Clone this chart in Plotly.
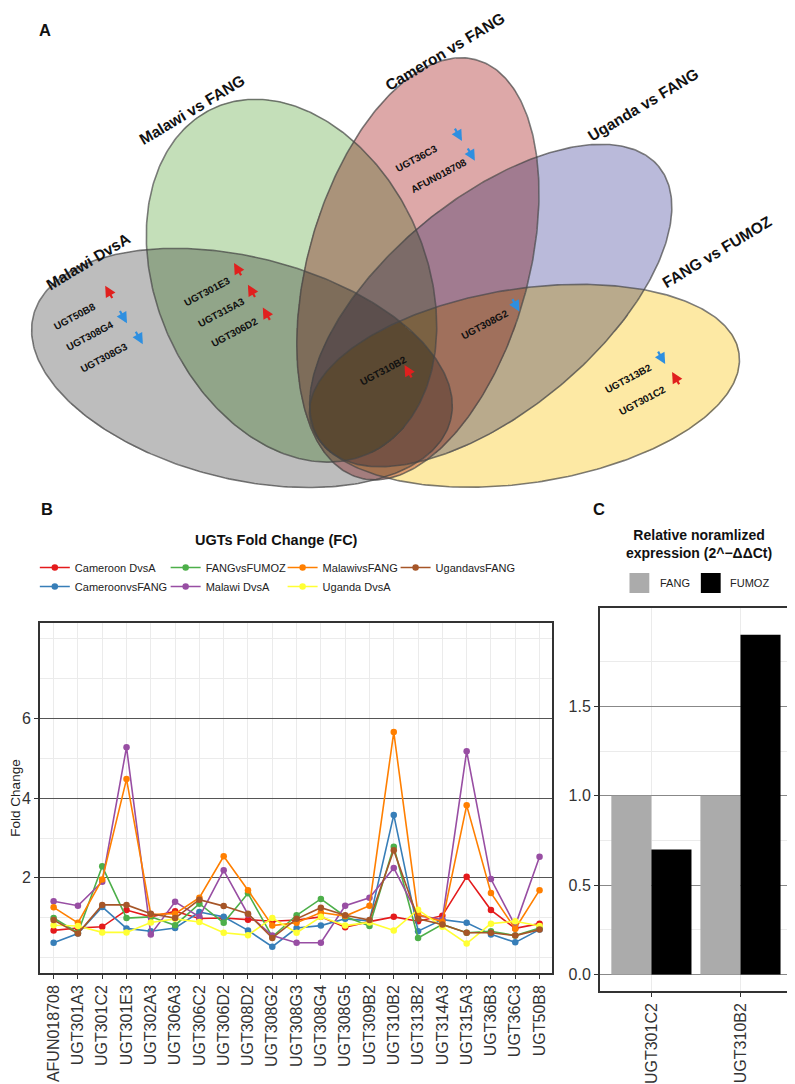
import base64
import struct
import zlib

import numpy as np
import plotly.graph_objects as go

# ---------------- data ----------------
genes = ["AFUN018708", "UGT301A3", "UGT301C2", "UGT301E3", "UGT302A3", "UGT306A3",
         "UGT306C2", "UGT306D2", "UGT308D2", "UGT308G2", "UGT308G3", "UGT308G4",
         "UGT308G5", "UGT309B2", "UGT310B2", "UGT313B2", "UGT314A3", "UGT315A3",
         "UGT36B3", "UGT36C3", "UGT50B8"]

cameroon_dvsa = [0.68, 0.74, 0.77, 1.19, 1.02, 1.16, 0.98, 0.99, 0.95, 0.91, 0.94,
                 1.02, 0.76, 0.90, 1.02, 0.91, 1.05, 2.03, 1.19, 0.73, 0.85]
cameroon_vs_fang = [0.37, 0.60, 1.27, 0.73, 0.66, 0.74, 1.14, 1.02, 0.68, 0.27, 0.74,
                    0.80, 0.97, 0.92, 3.58, 0.66, 0.95, 0.87, 0.58, 0.38, 0.70]
fang_vs_fumoz = [0.99, 0.62, 2.29, 0.99, 1.02, 0.81, 1.35, 0.87, 1.61, 0.52, 1.06,
                 1.47, 1.03, 0.79, 2.78, 0.49, 0.83, 0.62, 0.66, 0.55, 0.74]
malawi_dvsa = [1.41, 1.30, 1.90, 5.28, 0.58, 1.40, 1.02, 2.19, 1.08, 0.55, 0.37,
               0.37, 1.30, 1.50, 2.25, 1.05, 0.95, 5.18, 1.97, 0.80, 2.53]
malawi_vs_fang = [1.26, 0.87, 1.96, 4.48, 1.08, 1.10, 1.50, 2.54, 1.69, 0.80, 0.87,
                  1.13, 1.04, 1.30, 5.66, 1.08, 0.90, 3.82, 1.62, 0.72, 1.69]
uganda_dvsa = [0.81, 0.79, 0.63, 0.63, 0.88, 0.97, 0.89, 0.62, 0.56, 0.99, 0.62,
               1.02, 0.80, 0.88, 0.68, 1.20, 0.77, 0.35, 0.85, 0.91, 0.79]
uganda_vs_fang = [0.94, 0.60, 1.32, 1.32, 1.10, 0.99, 1.45, 1.29, 1.10, 0.49, 0.97,
                  1.25, 1.06, 0.94, 2.69, 0.97, 0.83, 0.62, 0.62, 0.55, 0.70]

series_names = ["Cameroon DvsA", "CameroonvsFANG", "FANGvsFUMOZ", "Malawi DvsA",
                "MalawivsFANG", "Uganda DvsA", "UgandavsFANG"]
series_values = [cameroon_dvsa, cameroon_vs_fang, fang_vs_fumoz, malawi_dvsa,
                 malawi_vs_fang, uganda_dvsa, uganda_vs_fang]

bar_genes = ["UGT301C2", "UGT310B2"]
fang_expr = [1.00, 1.00]
fumoz_expr = [0.70, 1.90]

venn_sets = ["Malawi DvsA", "Malawi vs FANG", "Cameron vs FANG", "Uganda vs FANG", "FANG vs FUMOZ"]
venn_genes = ["UGT50B8", "UGT308G4", "UGT308G3", "UGT301E3", "UGT315A3", "UGT306D2",
              "UGT310B2", "UGT308G2", "UGT36C3", "AFUN018708", "UGT313B2", "UGT301C2"]
venn_regulation = ["up", "down", "down", "up", "up", "up",
                   "up", "down", "down", "down", "down", "up"]

# ---------------- styles / layout geometry ----------------
PAGE_W, PAGE_H, OFF = 795, 1084, 8      # page body has an 8px margin
FW, FH = PAGE_W - OFF, PAGE_H - OFF       # figure size
VENN_BOTTOM = 495
FONT = "Liberation Sans, Arial, sans-serif"
series_colors = ["#E41A1C", "#377EB8", "#4DAF4A", "#984EA3", "#FF7F00", "#FFFF33", "#A65628"]
legend_col = ["legend", "legend", "legend2", "legend2", "legend3", "legend3", "legend4"]
legend_rank = [1, 2, 1, 2, 1, 2, 1]
legend_text_x = [68, 200, 318, 432]

# Venn ellipses in page pixel space: cx, cy, a, b, rotation(deg)
ellipse_geom = [(237, 369, 217, 112, 14), (287, 281, 191, 136, 66),
                (414.5, 269, 219, 111, -74.3), (488, 306, 220, 107, -39.6),
                (522, 387, 219, 98, -8.7)]
# single-set tint of each ellipse; overlaps are shown multiplied
ellipse_tint = [(189, 189, 189), (196, 223, 185), (221, 168, 168), (186, 186, 218), (253, 233, 164)]
set_label_pos = [(82, 262), (187, 108), (442, 50), (642, 103), (717, 252)]
gene_label_pos = [(68, 317), (84, 336), (98, 358), (202, 292), (216, 313), (229, 333),
                  (380, 372), (482, 325), (413, 158), (436, 175), (627, 380), (641, 402)]
arrow_pos = [(103, 293), (117, 317), (133, 338), (233, 270), (247, 292), (262, 315),
             (405, 373), (513, 305), (455, 133), (468, 153), (660, 358), (675, 380)]


def px(p):
    return (p - OFF) / FW


def py(p):
    return 1 - (p - OFF) / FH


def png_data_uri(rgb):
    h, w, _ = rgb.shape
    raw = b"".join(b"\x00" + rgb[i].tobytes() for i in range(h))

    def chunk(tag, data):
        return (struct.pack(">I", len(data)) + tag + data +
                struct.pack(">I", zlib.crc32(tag + data) & 0xFFFFFFFF))

    png = (b"\x89PNG\r\n\x1a\n" +
           chunk(b"IHDR", struct.pack(">IIBBBBB", w, h, 8, 2, 0, 0, 0)) +
           chunk(b"IDAT", zlib.compress(raw, 9)) + chunk(b"IEND", b""))
    return "data:image/png;base64," + base64.b64encode(png).decode()


fig = go.Figure()

# ---------------- Panel A: Venn ----------------
ss = 2  # supersampling
gx = OFF + (np.arange((PAGE_W - OFF) * ss) + 0.5) / ss
gy = OFF + (np.arange((VENN_BOTTOM - OFF) * ss) + 0.5) / ss
GX, GY = np.meshgrid(gx, gy)
img = np.ones(GX.shape + (3,))
for (cx, cy, a, b, rot), tint in zip(ellipse_geom, ellipse_tint):
    r = np.deg2rad(rot)
    dx, dy = GX - cx, GY - cy
    u = dx * np.cos(r) + dy * np.sin(r)
    v = -dx * np.sin(r) + dy * np.cos(r)
    inside = (u / a) ** 2 + (v / b) ** 2 <= 1
    img[inside] *= np.array(tint) / 255.0
img = img.reshape(img.shape[0] // ss, ss, img.shape[1] // ss, ss, 3).mean(axis=(1, 3))
img = np.clip(np.round(img * 255), 0, 255).astype(np.uint8)
fig.add_trace(go.Image(source=png_data_uri(img), x0=OFF + 0.5, y0=OFF + 0.5, dx=1, dy=1,
                       xaxis="x3", yaxis="y3", hoverinfo="skip"))

t = np.linspace(0, 2 * np.pi, 360)
for (cx, cy, a, b, rot) in ellipse_geom:
    r = np.deg2rad(rot)
    ex = cx + a * np.cos(t) * np.cos(r) - b * np.sin(t) * np.sin(r)
    ey = cy + a * np.cos(t) * np.sin(r) + b * np.sin(t) * np.cos(r)
    fig.add_trace(go.Scatter(x=ex, y=ey, mode="lines",
                             line=dict(color="rgba(70,70,70,0.7)", width=1.6),
                             xaxis="x3", yaxis="y3", showlegend=False, hoverinfo="skip"))

annotations = []
C = dict(xanchor="center", yanchor="middle", showarrow=False)
for name, (x, y) in zip(venn_sets, set_label_pos):
    annotations.append(dict(x=x, y=y, xref="x3", yref="y3", text=f"<b>{name}</b>",
                            textangle=-31, font=dict(size=15.5, color="#111", family=FONT), **C))
for g, (x, y) in zip(venn_genes, gene_label_pos):
    annotations.append(dict(x=x, y=y, xref="x3", yref="y3", text=f"<b>{g}</b>",
                            textangle=-28, font=dict(size=10, color="#111", family=FONT), **C))
for reg, (x, y) in zip(venn_regulation, arrow_pos):
    if reg == "up":
        hx, hy, tx, ty, col = x - 4, y - 7, x + 4, y + 7, "#E0201E"
    else:
        hx, hy, tx, ty, col = x + 4, y + 7, x - 4, y - 7, "#2E8FE0"
    annotations.append(dict(x=hx, y=hy, ax=tx, ay=ty, xref="x3", yref="y3",
                            axref="x3", ayref="y3", text="", showarrow=True,
                            arrowhead=2, arrowsize=1, arrowwidth=2.2, arrowcolor=col))

# ---------------- Panel B: line chart ----------------
for name, vals, col, lg, rk in zip(series_names, series_values, series_colors, legend_col, legend_rank):
    fig.add_trace(go.Scatter(x=genes, y=vals, mode="lines+markers", name=name,
                             line=dict(color=col, width=1.6),
                             marker=dict(color=col, size=6.5),
                             xaxis="x", yaxis="y", legendrank=rk, legend=lg, legendgroup=name))

# ---------------- Panel C: bars ----------------
fig.add_trace(go.Bar(x=bar_genes, y=fang_expr, name="FANG", marker=dict(color="#ABABAB", line=dict(width=0)),
                     xaxis="x2", yaxis="y2", showlegend=False))
fig.add_trace(go.Bar(x=bar_genes, y=fumoz_expr, name="FUMOZ", marker=dict(color="#000000", line=dict(width=0)),
                     xaxis="x2", yaxis="y2", showlegend=False))

# panel letters and titles
for letter, (x, y) in zip(["A", "B", "C"], [(38, 30), (40, 509), (597, 509)]):
    annotations.append(dict(x=px(x), y=py(y), xref="paper", yref="paper", text=f"<b>{letter}</b>",
                            font=dict(size=16.5, color="#111", family=FONT), **C))
annotations.append(dict(x=px(272), y=py(540), xref="paper", yref="paper",
                        text="<b>UGTs Fold Change (FC)</b>",
                        font=dict(size=14.5, color="#111", family=FONT), **C))
annotations.append(dict(x=px(698), y=py(544), xref="paper", yref="paper",
                        text="<b>Relative noramlized<br>expression (2^\u2212\u0394\u0394Ct)</b>",
                        font=dict(size=14, color="#111", family=FONT), **C))

# manual legend for panel C
shapes = []
for (x0, col, lab, tx) in [(628, "#ABABAB", "FANG", 657), (700, "#000000", "FUMOZ", 727)]:
    shapes.append(dict(type="rect", xref="paper", yref="paper", x0=px(x0), x1=px(x0 + 20),
                       y0=py(593), y1=py(573), fillcolor=col, line=dict(width=0)))
    annotations.append(dict(x=px(tx), y=py(583), xref="paper", yref="paper", text=lab,
                            xanchor="left", yanchor="middle", showarrow=False,
                            font=dict(size=11, color="#222", family=FONT)))

axis_common = dict(showline=True, mirror=True, linecolor="#333", linewidth=1.5,
                   ticks="outside", ticklen=4, tickcolor="#333", zeroline=False)
legends = {}
for i, tx in enumerate(legend_text_x):
    key = "legend" if i == 0 else f"legend{i + 1}"
    legends[key] = dict(orientation="v", x=px(tx - 40), xanchor="left", y=py(553), yanchor="top",
                        font=dict(size=11, color="#222", family=FONT), tracegroupgap=4,
                        bgcolor="rgba(0,0,0,0)", traceorder="normal")

fig.update_layout(
    width=FW, height=FH, margin=dict(l=0, r=0, t=0, b=0),
    paper_bgcolor="white", plot_bgcolor="white",
    font=dict(family=FONT, color="#222"),
    barmode="group", bargap=0.1, bargroupgap=0,
    xaxis=dict(domain=[px(33), px(550)], anchor="y", type="category", categoryorder="array",
               categoryarray=genes, range=[-0.57, 20.52], showgrid=True, gridcolor="#ebebeb",
               tickangle=-90, tickfont=dict(size=16, color="#333"), **axis_common),
    yaxis=dict(domain=[py(973), py(623)], anchor="x", range=[-0.39, 8.40], tickvals=[2, 4, 6],
               showgrid=True, gridcolor="#555", gridwidth=1.3,
               minor=dict(tickvals=[0, 1, 3, 5, 7, 8], showgrid=True, gridcolor="#ebebeb", gridwidth=1),
               tickfont=dict(size=16, color="#333"),
               title=dict(text="Fold Change", font=dict(size=13.5, color="#222"), standoff=4),
               **axis_common),
    xaxis2=dict(domain=[px(598), px(793)], anchor="y2", type="category", categoryorder="array",
                categoryarray=bar_genes, range=[-0.58, 1.59], showgrid=True, gridcolor="#ebebeb",
                tickangle=-90, tickfont=dict(size=16, color="#333"), **axis_common),
    yaxis2=dict(domain=[py(991), py(608)], anchor="x2", range=[-0.092, 2.05],
                tickvals=[0, 0.5, 1, 1.5], ticktext=["0.0", "0.5", "1.0", "1.5"],
                showgrid=True, gridcolor="#888", gridwidth=1.3,
                minor=dict(tickvals=[0.25, 0.75, 1.25, 1.75], showgrid=True, gridcolor="#ebebeb", gridwidth=1),
                tickfont=dict(size=16, color="#333"), **axis_common),
    xaxis3=dict(domain=[0, 1], anchor="y3", range=[OFF, PAGE_W], visible=False, fixedrange=True),
    yaxis3=dict(domain=[py(VENN_BOTTOM), 1], anchor="x3", range=[VENN_BOTTOM, OFF], visible=False,
                fixedrange=True, autorange=False),
    annotations=annotations, shapes=shapes, **legends,
)

fig.write_html("out.html")
